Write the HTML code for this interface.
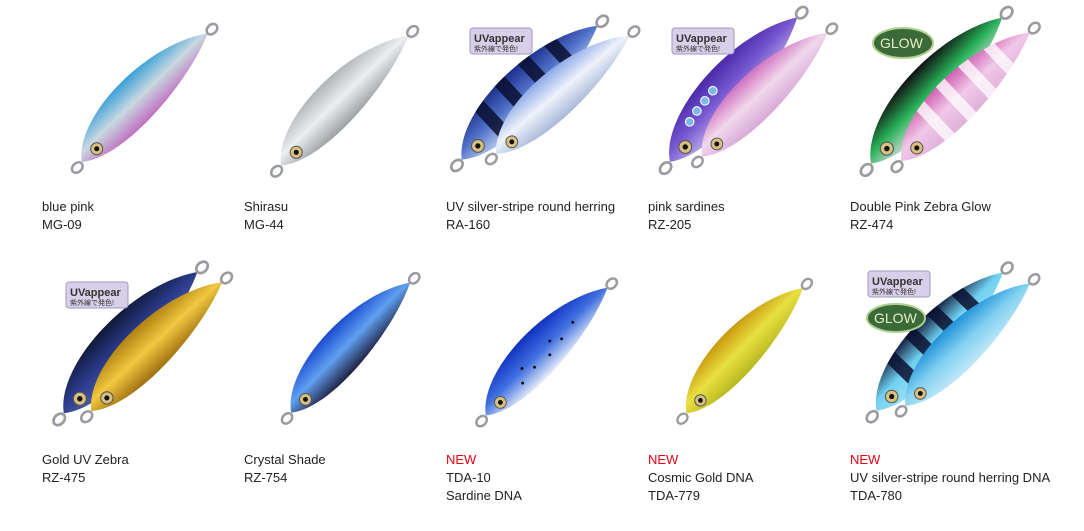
<!DOCTYPE html>
<html><head><meta charset="utf-8"><style>
html,body{margin:0;padding:0;background:#fff;width:1084px;height:531px;overflow:hidden}
svg{display:block}
text{font-family:"Liberation Sans","Noto Sans CJK JP",sans-serif;font-size:13px;fill:#222}
.n{fill:#e60012}
</style></head><body>
<svg width="1084" height="531" viewBox="0 0 1084 531" xmlns="http://www.w3.org/2000/svg">
<defs>
<path id="L" d="M-90,2 C-62,-36 40,-38 90,-3 C45,18 -55,30 -90,2Z"/>
<clipPath id="C"><use href="#L"/></clipPath>
<g id="S" clip-path="url(#C)" fill="#fff" opacity=".75"><rect x="-45" y="-40" width="12" height="80"/><rect x="-15" y="-40" width="12" height="80"/><rect x="15" y="-40" width="12" height="80"/><rect x="45" y="-40" width="12" height="80"/></g>
<g id="Z" clip-path="url(#C)" fill="#0a1030" opacity=".85"><rect x="-50" y="-40" width="13" height="80"/><rect x="-20" y="-40" width="13" height="80"/><rect x="10" y="-40" width="13" height="80"/><rect x="40" y="-40" width="13" height="80"/></g>
<g id="E"><ellipse cx="-97" cy="3" rx="6" ry="4.5" fill="none" stroke="#9a9aa0" stroke-width="2.5"/><ellipse cx="96" cy="-3" rx="6" ry="4.5" fill="none" stroke="#9a9aa0" stroke-width="2.5"/><circle cx="-70" cy="3" r="6" fill="#d8c080" stroke="#555" stroke-width="1"/><circle cx="-70" cy="3" r="2.5" fill="#111"/></g>
<linearGradient id="g1" x1="0" y1="0" x2="0" y2="1"><stop offset="0" stop-color="#3a9fd8"/><stop offset=".5" stop-color="#c8d8e0"/><stop offset="1" stop-color="#c070c0"/></linearGradient>
<linearGradient id="g2" x1="0" y1="0" x2="0" y2="1"><stop offset="0" stop-color="#b0b4b8"/><stop offset=".5" stop-color="#eceef0"/><stop offset="1" stop-color="#9ca0a4"/></linearGradient>
<linearGradient id="g3a" x1="0" y1="0" x2="0" y2="1"><stop offset="0" stop-color="#1a2e8a"/><stop offset=".5" stop-color="#5070c8"/><stop offset="1" stop-color="#c0d0f0"/></linearGradient>
<linearGradient id="g3b" x1="0" y1="0" x2="0" y2="1"><stop offset="0" stop-color="#8aa8e8"/><stop offset=".5" stop-color="#eef2fa"/><stop offset="1" stop-color="#a8b8d8"/></linearGradient>
<linearGradient id="g4a" x1="0" y1="0" x2="0" y2="1"><stop offset="0" stop-color="#4828a8"/><stop offset=".5" stop-color="#7858d0"/><stop offset="1" stop-color="#c0b0e8"/></linearGradient>
<linearGradient id="g4b" x1="0" y1="0" x2="0" y2="1"><stop offset="0" stop-color="#d070c0"/><stop offset=".5" stop-color="#f0d8ec"/><stop offset="1" stop-color="#d8a8d8"/></linearGradient>
<linearGradient id="g5a" x1="0" y1="0" x2="0" y2="1"><stop offset="0" stop-color="#101010"/><stop offset=".5" stop-color="#28b058"/><stop offset="1" stop-color="#e0e0e0"/></linearGradient>
<linearGradient id="g5b" x1="0" y1="0" x2="0" y2="1"><stop offset="0" stop-color="#d060b0"/><stop offset=".5" stop-color="#f0c8e8"/><stop offset="1" stop-color="#e0b0d8"/></linearGradient>
<linearGradient id="h1a" x1="0" y1="0" x2="0" y2="1"><stop offset="0" stop-color="#101838"/><stop offset=".5" stop-color="#2a3a8a"/><stop offset="1" stop-color="#5060a8"/></linearGradient>
<linearGradient id="h1b" x1="0" y1="0" x2="0" y2="1"><stop offset="0" stop-color="#b08010"/><stop offset=".5" stop-color="#f0c840"/><stop offset="1" stop-color="#a07010"/></linearGradient>
<linearGradient id="h2" x1="0" y1="0" x2="0" y2="1"><stop offset="0" stop-color="#1a4ad0"/><stop offset=".5" stop-color="#60a0f0"/><stop offset="1" stop-color="#202040"/></linearGradient>
<linearGradient id="h3" x1="0" y1="0" x2="0" y2="1"><stop offset="0" stop-color="#1030c0"/><stop offset=".5" stop-color="#4070e0"/><stop offset="1" stop-color="#e8eef8"/></linearGradient>
<linearGradient id="h4" x1="0" y1="0" x2="0" y2="1"><stop offset="0" stop-color="#c89810"/><stop offset=".5" stop-color="#e8e040"/><stop offset="1" stop-color="#b8b820"/></linearGradient>
<linearGradient id="h5a" x1="0" y1="0" x2="0" y2="1"><stop offset="0" stop-color="#101838"/><stop offset=".5" stop-color="#70d0f0"/><stop offset="1" stop-color="#a0e0f0"/></linearGradient>
<linearGradient id="h5b" x1="0" y1="0" x2="0" y2="1"><stop offset="0" stop-color="#2090d8"/><stop offset=".5" stop-color="#80d0f0"/><stop offset="1" stop-color="#c0e8f8"/></linearGradient>
</defs>

<!-- Row 1 -->
<g transform="translate(145,98) rotate(-44)"><use href="#L" fill="url(#g1)"/><use href="#E"/></g>
<g transform="translate(345,101) rotate(-44) scale(1.01)"><use href="#L" fill="url(#g2)"/><use href="#E"/></g>
<g transform="translate(530,93) rotate(-43) scale(1.06)"><use href="#L" fill="url(#g3a)"/><use href="#Z"/><use href="#E"/></g>
<g transform="translate(563,95) rotate(-40) scale(.99)"><use href="#L" fill="url(#g3b)"/><use href="#E"/></g>
<g transform="translate(734,90) rotate(-47) scale(1.07)"><use href="#L" fill="url(#g4a)"/><g fill="#7ab8f0" stroke="#fff"><circle cx="-50" cy="-10" r="4"/><circle cx="-38" cy="-12" r="4"/><circle cx="-26" cy="-13" r="4"/><circle cx="-14" cy="-14" r="4"/></g><use href="#E"/></g>
<g transform="translate(765,95) rotate(-43) scale(.98)"><use href="#L" fill="url(#g4b)"/><use href="#E"/></g>
<g transform="translate(937,91) rotate(-46.5) scale(1.09)"><use href="#L" fill="url(#g5a)"/><use href="#E"/></g>
<g transform="translate(966,97) rotate(-43.5) scale(1.01)"><use href="#L" fill="url(#g5b)"/><use href="#S"/><use href="#E"/></g>

<!-- Row 2 -->
<g transform="translate(131,343) rotate(-45) scale(1.08)"><use href="#L" fill="url(#h1a)"/><use href="#E"/></g>
<g transform="translate(157,347) rotate(-43) scale(1.02)"><use href="#L" fill="url(#h1b)"/><use href="#E"/></g>
<g transform="translate(351,348) rotate(-46) scale(.98)"><use href="#L" fill="url(#h2)"/><use href="#E"/></g>
<g transform="translate(547,352) rotate(-44.8) scale(.98)"><use href="#L" fill="url(#h3)"/><g fill="#111"><circle cx="-40" cy="5" r="1.5"/><circle cx="-20" cy="2" r="1.5"/><circle cx="0" cy="4" r="1.5"/><circle cx="20" cy="1" r="1.5"/><circle cx="-30" cy="-6" r="1.5"/><circle cx="10" cy="-6" r="1.5"/><circle cx="40" cy="-3" r="1.5"/></g><use href="#E"/></g>
<g transform="translate(745,351) rotate(-45.5) scale(.95)"><use href="#L" fill="url(#h4)"/><use href="#E"/></g>
<g transform="translate(940,342) rotate(-46) scale(1.04)"><use href="#L" fill="url(#h5a)"/><use href="#Z"/><use href="#E"/></g>
<g transform="translate(968,345) rotate(-43) scale(.97)"><use href="#L" fill="url(#h5b)"/><use href="#E"/></g>

<!-- Badges -->
<g><rect x="470" y="28" width="62" height="26" rx="3" fill="#d8d0e8" stroke="#a098c0"/><text x="474" y="42" style="font-size:11px;font-weight:bold;fill:#333">UVappear</text><text x="474" y="51" style="font-size:7px;fill:#333">紫外線で発色!</text></g>
<g><rect x="672" y="28" width="62" height="26" rx="3" fill="#d8d0e8" stroke="#a098c0"/><text x="676" y="42" style="font-size:11px;font-weight:bold;fill:#333">UVappear</text><text x="676" y="51" style="font-size:7px;fill:#333">紫外線で発色!</text></g>
<g><ellipse cx="903" cy="43" rx="30" ry="15" fill="#3a6a3a" stroke="#b0d090" stroke-width="2"/><text x="880" y="48" style="font-size:14px;fill:#e8f0c0">GLOW</text></g>
<g><rect x="66" y="282" width="62" height="26" rx="3" fill="#d8d0e8" stroke="#a098c0"/><text x="70" y="296" style="font-size:11px;font-weight:bold;fill:#333">UVappear</text><text x="70" y="305" style="font-size:7px;fill:#333">紫外線で発色!</text></g>
<g><rect x="868" y="271" width="62" height="26" rx="3" fill="#d8d0e8" stroke="#a098c0"/><text x="872" y="285" style="font-size:11px;font-weight:bold;fill:#333">UVappear</text><text x="872" y="294" style="font-size:7px;fill:#333">紫外線で発色!</text></g>
<g><ellipse cx="896" cy="318" rx="29" ry="14" fill="#3a6a3a" stroke="#b0d090" stroke-width="2"/><text x="874" y="323" style="font-size:14px;fill:#e8f0c0">GLOW</text></g>

<!-- Labels Row 1 -->
<text x="42" y="211">blue pink</text><text x="42" y="229">MG-09</text>
<text x="244" y="211">Shirasu</text><text x="244" y="229">MG-44</text>
<text x="446" y="211">UV silver-stripe round herring</text><text x="446" y="229">RA-160</text>
<text x="648" y="211">pink sardines</text><text x="648" y="229">RZ-205</text>
<text x="850" y="211">Double Pink Zebra Glow</text><text x="850" y="229">RZ-474</text>
<!-- Labels Row 2 -->
<text x="42" y="464">Gold UV Zebra</text><text x="42" y="482">RZ-475</text>
<text x="244" y="464">Crystal Shade</text><text x="244" y="482">RZ-754</text>
<text x="446" y="464" class="n">NEW</text><text x="446" y="482">TDA-10</text><text x="446" y="500">Sardine DNA</text>
<text x="648" y="464" class="n">NEW</text><text x="648" y="482">Cosmic Gold DNA</text><text x="648" y="500">TDA-779</text>
<text x="850" y="464" class="n">NEW</text><text x="850" y="482">UV silver-stripe round herring DNA</text><text x="850" y="500">TDA-780</text>
</svg>
</body></html>
